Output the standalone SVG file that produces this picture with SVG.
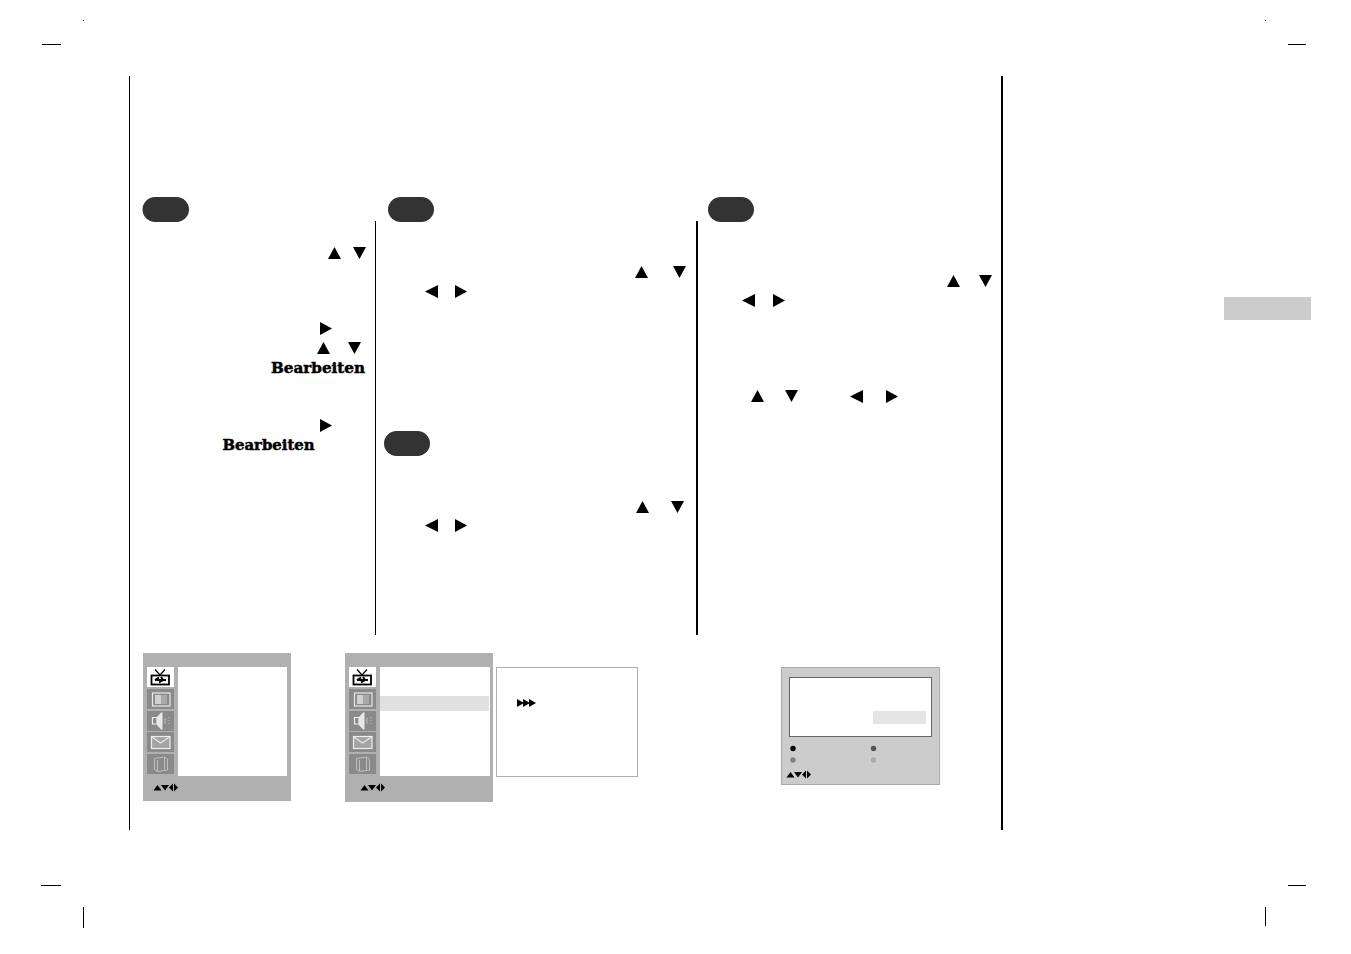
<svg xmlns="http://www.w3.org/2000/svg" width="1351" height="954" viewBox="0 0 1351 954">
<style>
.k{stroke:#000;fill:none}
.pill{fill:#333}
.panel{fill:#b0b0b0}
.tile{fill:#8a8a8a}
.w{fill:#fff}
.ic{fill:none;stroke:#e8e8e8;stroke-width:1.200}
.ic2{fill:none;stroke:#c0c0c0;stroke-width:1}
.b{font-family:"DejaVu Serif",serif;font-weight:700;font-size:15.500px;fill:#000;stroke:#000;stroke-width:.5px}
</style>
<defs>
<polygon id="u" points="0,12 6.500,0 13,12"/>
<polygon id="d" points="0,0 13,0 6.500,12"/>
<polygon id="l" points="13,0 13,13 0,6.500"/>
<polygon id="r" points="0,0 0,13 12,6.500"/>
<g id="nav"><polygon points="-.5,6.500 3.500,1 7.500,6.500"/><polygon points="7,1 15,1 11,6.500"/><polygon points="19,-.5 19,7.500 15,3.500"/><polygon points="20,-.5 20,7.500 24,3.500"/></g>
<g id="icons">
<rect class="w" x="0" y="0" width="27" height="20"/>
<rect class="tile" x="0" y="22" width="27" height="20"/>
<rect class="tile" x="0" y="44" width="27" height="20"/>
<rect class="tile" x="0" y="65" width="27" height="20"/>
<rect class="tile" x="0" y="87" width="27" height="20"/>
<path d="M8 2.500l5 5.500 5-5.500" fill="none" stroke="#000" stroke-width="1.200"/>
<rect x="4.500" y="8.500" width="17.500" height="9" fill="none" stroke="#000" stroke-width="1.800"/>
<path d="M8 13h11M12 10.500l-4 2.500M14 10l2 3-4 2.500" fill="none" stroke="#000" stroke-width="2"/>
<rect class="ic" x="5.500" y="26" width="17.500" height="13"/>
<rect x="8" y="28" width="6" height="9" fill="#d0d0d0"/>
<rect x="14" y="28" width="6" height="9" fill="#a8a8a8"/>
<path d="M5.500 50.500h4.500v6.500h-4.500z" fill="#8a8a8a" stroke="#eee" stroke-width="1.200"/>
<path d="M10 50l4-4.500h1.500v17h-1.500l-4-4.500z" fill="#e8e8e8"/>
<path class="ic2" d="M18 51v6M22 50v1M22 53v1M22 56v1"/>
<rect x="4.500" y="69.500" width="18.500" height="12" fill="#a4a4a4" stroke="#eee" stroke-width="1.200"/>
<path class="ic" d="M5 70l8.500 6 9-6"/>
<path class="ic2" d="M7.500 91.500l10-1.500 3 2v11l-10 1.500-3-2zM10.500 93v11M17.500 90.500v12"/>
</g>
</defs>
<rect width="1351" height="954" fill="#fff"/>
<g id="connectors">
<path class="k" d="M129.500 76V830"/>
<path class="k" stroke-width="2" d="M1002 76V830"/>
<path class="k" d="M375.500 221V635"/>
<path class="k" stroke-width="2" d="M697 221V635"/>
</g>
<g id="crop-marks">
<path class="k" d="M42 44.500H61M1288 44.500H1306M41 885.500H61M1288 885.500H1306M83.500 907V928M1265.500 907V926"/>
<rect x="83" y="20" width="1" height="1"/>
<rect x="1265" y="20" width="1" height="1"/>
</g>
<rect id="side-tab" x="1224" y="297" width="87" height="23" fill="#ccc"/>
<g id="pills">
<rect class="pill" x="142.500" y="197" width="46.500" height="25" rx="12.500"/>
<rect class="pill" x="388" y="197" width="46" height="25" rx="12.500"/>
<rect class="pill" x="708" y="197" width="46" height="25" rx="12.500"/>
<rect class="pill" x="384" y="431" width="46" height="25" rx="12.500"/>
</g>
<g id="arrows">
<use href="#u" x="328" y="247"/><use href="#d" x="353" y="247"/>
<use href="#r" x="320" y="322"/>
<use href="#u" x="317" y="342"/><use href="#d" x="348" y="342"/>
<use href="#r" x="320" y="419"/>
<use href="#u" x="635" y="266"/><use href="#d" x="673" y="266"/>
<use href="#l" x="425" y="285"/><use href="#r" x="455" y="285"/>
<use href="#u" x="636" y="501"/><use href="#d" x="671" y="501"/>
<use href="#l" x="425" y="519"/><use href="#r" x="455" y="519"/>
<use href="#u" x="947" y="275"/><use href="#d" x="979" y="275"/>
<use href="#l" x="742" y="294"/><use href="#r" x="773" y="294"/>
<use href="#u" x="751" y="390"/><use href="#d" x="785" y="390"/>
<use href="#l" x="850" y="390"/><use href="#r" x="886" y="390"/>
</g>
<g id="labels">
<text class="b" x="271" y="373" textLength="94" lengthAdjust="spacingAndGlyphs">Bearbeiten</text>
<text class="b" x="222.500" y="450" textLength="92" lengthAdjust="spacingAndGlyphs">Bearbeiten</text>
</g>
<g id="menu-1">
<rect class="panel" x="143" y="653" width="148" height="148"/>
<rect class="w" x="178" y="667" width="109" height="109"/>
<use href="#icons" x="147" y="667"/>
<use href="#nav" x="154" y="784"/>
</g>
<g id="menu-2">
<rect class="panel" x="345" y="653" width="148" height="149"/>
<rect class="w" x="380" y="667" width="110" height="109"/>
<rect x="380" y="696" width="109" height="15" fill="#e0e0e0"/>
<use href="#icons" x="349" y="667"/>
<use href="#nav" x="361" y="784"/>
</g>
<g id="submenu">
<rect x="496.500" y="667.500" width="141" height="109" fill="#fff" stroke="#b0b0b0"/>
<path d="M517 699v8l7-4zM523 699v8l7-4zM529 699v8l7-4z"/>
</g>
<g id="dialog">
<rect x="781.500" y="667.500" width="158" height="117" fill="#ccc" stroke="#aaa"/>
<rect x="789.500" y="677.500" width="142" height="59" fill="#fff" stroke="#666"/>
<rect x="873" y="711" width="53" height="13" fill="#e4e4e4"/>
<circle cx="793" cy="748.500" r="2.700" fill="#000"/>
<circle cx="873.500" cy="748.500" r="2.700" fill="#555"/>
<circle cx="793" cy="760" r="2.700" fill="#808080"/>
<circle cx="873.500" cy="760" r="2.700" fill="#aaa"/>
<use href="#nav" x="787" y="771"/>
</g>
</svg>
